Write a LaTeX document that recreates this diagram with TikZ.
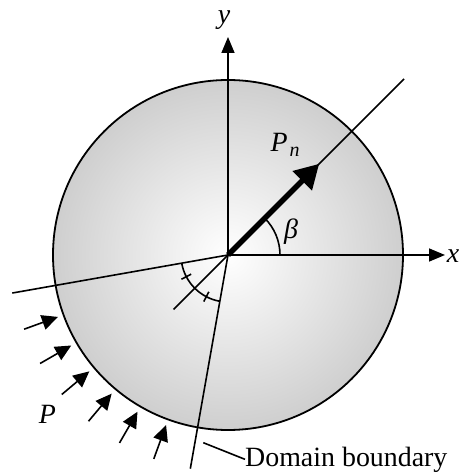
\documentclass[tikz,border=0pt]{standalone}
\usepackage{fontspec}
\setmainfont{Liberation Serif}
\usetikzlibrary{arrows.meta}
\begin{document}
\begin{tikzpicture}[x=1bp,y=1bp,
  thinline/.style={line width=1.6bp},
  axisarrow/.style={thinline,-{Triangle[length=16bp,width=13bp]}},
  pressarrow/.style={thinline,-{Triangle[length=16bp,width=15bp]}},
  lbl/.style={inner sep=0pt,font=\fontsize{28}{30}\selectfont\itshape},
  txt/.style={inner sep=0pt,font=\fontsize{28}{30}\selectfont}]
\useasboundingbox (-228,-221) rectangle (237,255);
\coordinate (O) at (0,0);
% disc
\shade[inner color=white,outer color=black!19] (O) circle (175);
\draw[line width=1.8bp] (O) circle (175);
% axes
\coordinate (xend) at (217,0);
\coordinate (yend) at (0,218);
\draw[axisarrow] (O) -- (xend);
\draw[axisarrow] (O) -- (yend);
\node[lbl] (xl) at (225,-1) {x};
\node[lbl] (yl) at (-4,235) {y};
% normal line
\coordinate (n1) at (45:249);
\coordinate (n2) at (225:77);
\draw[thinline] (n2) -- (n1);
\coordinate (pn) at (45:129);
\draw[line width=5.5bp,-{Triangle[length=24bp,width=26bp]}] (O) -- (pn);
\node[inner sep=0pt] (pnl) at (57,110) {\fontsize{28}{30}\selectfont\itshape P\kern2bp\raisebox{-5bp}{\fontsize{20}{20}\selectfont n}};
% beta
\draw[thinline] (52,0) arc[start angle=0,end angle=45,radius=52];
\node[lbl] (bl) at (63,23) {β};
% domain boundary lines
\coordinate (lA) at (190:219);
\coordinate (lB) at (260:217);
\draw[thinline] (O) -- (lA);
\draw[thinline] (O) -- (lB);
\draw[thinline] (190:47) arc[start angle=190,end angle=260,radius=47];
\draw[thinline] (207.5:41.5) -- (207.5:52.5);
\draw[thinline] (242.5:41.5) -- (242.5:52.5);
% pressure arrows
\foreach \a in {200,210,220,230,240,250}{
  \coordinate (t\a) at (\a:217);
  \coordinate (h\a) at (\a:181);
  \draw[pressarrow] (t\a) -- (h\a);
}
\node[lbl] (pl) at (-180.5,-159) {P};
% domain boundary label
\node[txt,anchor=base west] (db) at (17,-211) {Domain boundary};
\coordinate (lead) at (-24.7,-187.7);
\draw[thinline] (lead) -- (db.west);
\end{tikzpicture}
\end{document}
